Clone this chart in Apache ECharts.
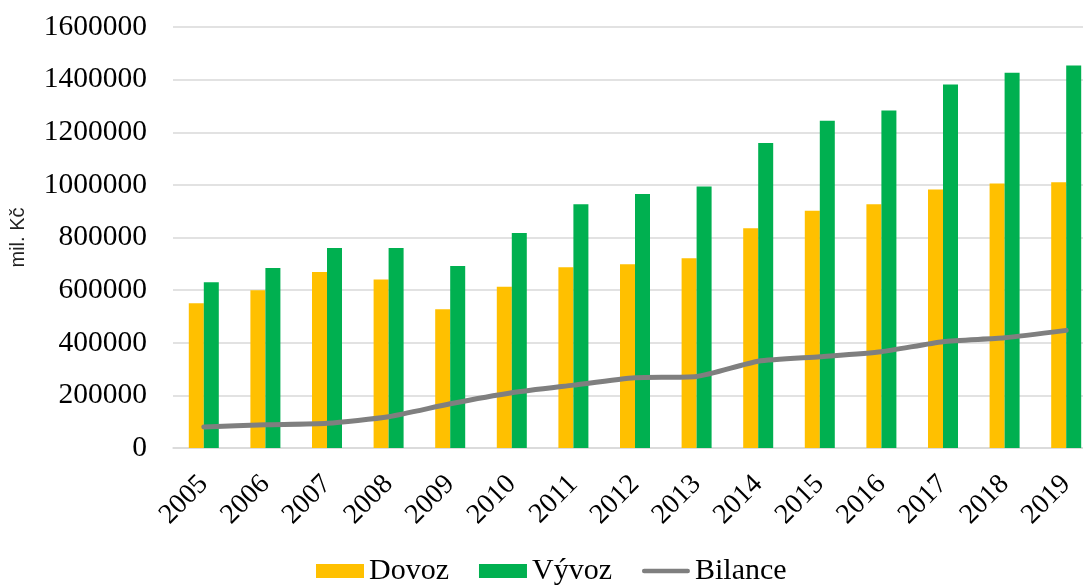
<!DOCTYPE html>
<html>
<head>
<meta charset="utf-8">
<script src="https://cdn.jsdelivr.net/npm/echarts@6/dist/echarts.min.js"></script>
<style>
html,body{margin:0;padding:0;background:#fff;}
#chart{width:1083px;height:585px;}
</style>
</head>
<body>
<div id="chart"></div>
<script>
var years = ['2005','2006','2007','2008','2009','2010','2011','2012','2013','2014','2015','2016','2017','2018','2019'];
var dovoz = [550000, 600000, 669000, 640000, 527000, 613000, 687000, 698000, 721000, 835000, 902000, 926000, 982000, 1005000, 1010000];
var vyvoz = [630000, 684000, 760000, 760000, 692000, 817000, 926000, 965000, 994000, 1159000, 1244000, 1283000, 1381000, 1426000, 1454000];
var bilance = [80000, 88000, 94000, 119000, 168000, 210000, 239000, 267000, 272000, 330000, 347000, 366000, 404000, 419000, 447000];
var yTicks = [0, 200000, 400000, 600000, 800000, 1000000, 1200000, 1400000, 1600000];

var chart = echarts.init(document.getElementById('chart'), null, {renderer: 'canvas'});
var serif = 'Liberation Serif, "Times New Roman", serif';
var lineIcon = 'path://M0,0L0.01,0Z M2,4.5L52,4.5A2.5,2.5,0,0,1,52,9.5L2,9.5A2.5,2.5,0,0,1,2,4.5Z M0,14L0.01,14Z';
chart.setOption({
  animation: false,
  backgroundColor: '#ffffff',
  grid: {left: 173, right: -14, top: 27, bottom: 137, containLabel: false, outerBoundsMode: 'none'},
  legend: {
    left: 316, top: 556, padding: 0,
    itemWidth: 48, itemHeight: 14, itemGap: 30,
    textStyle: {fontFamily: serif, fontSize: 30, color: '#000'},
    data: [
      {name: 'Dovoz', icon: 'rect'},
      {name: 'Vývoz', icon: 'rect'},
      {name: 'Bilance', icon: lineIcon, itemStyle: {color: '#7f7f7f'}}
    ]
  },
  xAxis: {
    type: 'category',
    data: years,
    axisLine: {lineStyle: {color: '#d9d9d9', width: 1.5}},
    axisTick: {show: false},
    axisLabel: {
      rotate: 45, align: 'right', verticalAlign: 'middle', margin: 32,
      fontFamily: serif, fontSize: 28, color: '#000', interval: 0
    }
  },
  yAxis: {
    type: 'value',
    min: yTicks[0], max: yTicks[yTicks.length - 1], interval: 200000,
    name: 'mil. Kč',
    nameLocation: 'middle',
    nameGap: 145,
    nameRotate: 90,
    nameTextStyle: {fontFamily: 'Liberation Sans, Arial, sans-serif', fontSize: 20, color: '#222'},
    axisLine: {show: false},
    axisTick: {show: false},
    splitLine: {lineStyle: {color: '#d9d9d9', width: 1.5}},
    axisLabel: {fontFamily: serif, fontSize: 29.5, color: '#000', margin: 26,
      formatter: function (v) { return String(v); }}
  },
  series: [
    {name: 'Dovoz', type: 'bar', data: dovoz, barWidth: 15, barGap: 0,
     itemStyle: {color: '#FFC000'}},
    {name: 'Vývoz', type: 'bar', data: vyvoz, barWidth: 15, barGap: 0,
     itemStyle: {color: '#00B050'}},
    {name: 'Bilance', type: 'line', data: bilance, symbol: 'none', smooth: 0.2,
     lineStyle: {color: '#7f7f7f', width: 5, cap: 'round', join: 'round'},
     itemStyle: {color: '#7f7f7f'}}
  ]
});
</script>
</body>
</html>
